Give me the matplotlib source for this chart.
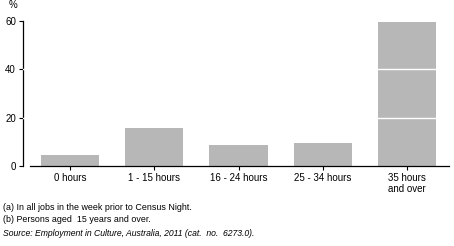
import numpy as np
import matplotlib
matplotlib.use("Agg")
import matplotlib.pyplot as plt

categories = ["0 hours", "1 - 15 hours", "16 - 24 hours", "25 - 34 hours", "35 hours\nand over"]
values = [4.7, 15.9, 8.8, 9.6, 59.5]
yticks = [0, 20, 40, 60]

plt.rcParams["font.family"] = ["Liberation Sans", "DejaVu Sans"]

fig = plt.figure(figsize=(4.54, 2.46), dpi=100)
ax = fig.add_axes([23 / 454, 1 - 166.3 / 246, 426 / 454, 145.6 / 246])

x = np.arange(len(categories))
ax.bar(x, values, width=0.69, color="#b7b7b7", zorder=2)
for g in [20, 40]:
    ax.axhline(g, color="white", lw=1, zorder=3)

ax.set_xlim(-0.56, 4.5)
ax.set_ylim(0, 60)
ax.set_yticks(yticks)
ax.set_xticks(x)
ax.set_xticklabels(categories, fontsize=7, linespacing=1.1)
ax.tick_params(axis="y", labelsize=7, length=3, width=0.8, pad=2)
ax.tick_params(axis="x", length=3, width=0.8, pad=2)

for s in ["top", "right"]:
    ax.spines[s].set_visible(False)
ax.spines["left"].set_linewidth(0.9)
ax.spines["bottom"].set_linewidth(0.9)
ax.spines["bottom"].set_bounds(-0.48, 4.5)
ax.spines["left"].set_bounds(0.3, 60)

fig.text(13 / 454, 1 - 5 / 246, "%", fontsize=7, ha="center", va="center")
fig.text(3 / 454, 1 - 208 / 246, "(a) In all jobs in the week prior to Census Night.", fontsize=6.4, va="center")
fig.text(3 / 454, 1 - 219.5 / 246, "(b) Persons aged  15 years and over.", fontsize=6.4, va="center")
fig.text(3 / 454, 1 - 233 / 246, "Source: Employment in Culture, Australia, 2011 (cat.  no.  6273.0).",
         fontsize=6.2, style="italic", va="center")

fig.savefig("out.png", dpi=100)
